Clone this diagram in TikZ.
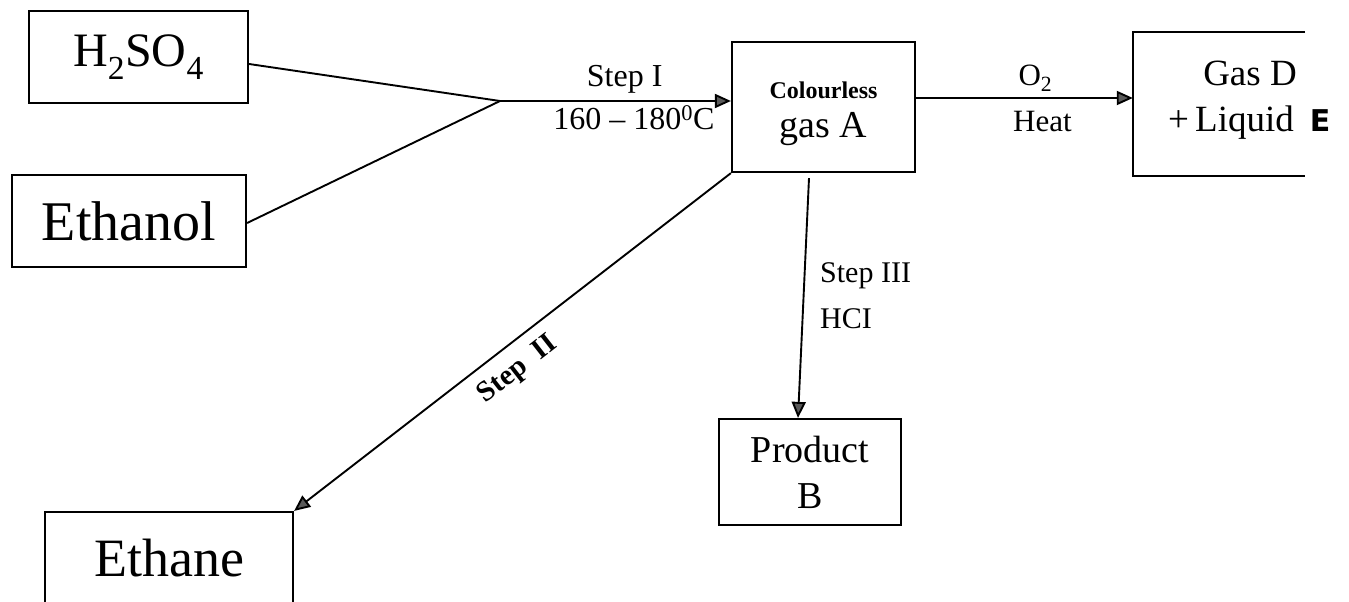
\documentclass[tikz,border=0pt]{standalone}
\usepackage{fontspec}
\setmainfont{Liberation Serif}
\newfontfamily\esans{DejaVu Sans}
\usetikzlibrary{arrows.meta}
\begin{document}
\begin{tikzpicture}[x=1pt,y=-1pt,
  box/.style={draw, line width=2.2pt, inner sep=0pt, align=center},
  openbox/.style={inner sep=0pt, align=center},
  conn/.style={line width=1.9pt},
  arr/.style={conn, -{Triangle[length=16pt,width=14pt,fill=black!65]}},
  lbl/.style={inner sep=0pt}]
\useasboundingbox (0,0) rectangle (1349,602);

% boxes
\node[box, minimum width=219pt, minimum height=92pt, font=\fontsize{48}{52}\selectfont] (h2so4) at (138.5,57) {H\textsubscript{2}SO\textsubscript{4}};
\node[box, minimum width=234pt, minimum height=92pt, font=\fontsize{56}{60}\selectfont] (ethanol) at (129,221) {Ethanol};
\node[box, minimum width=183pt, minimum height=130pt, font=\fontsize{38}{39}\selectfont] (gasA) at (823.5,107) {\rule{0pt}{6pt}\\[-14pt]{\fontsize{24}{26}\selectfont\bfseries Colourless}\\gas A};
\node[openbox, minimum width=172pt, minimum height=144pt] (gasD) at (1219,104) {};
\draw[line width=2.2pt] (gasD.north east) -- (gasD.north west) -- (gasD.south west) -- (gasD.south east);
\node[lbl, font=\fontsize{37}{40}\selectfont, anchor=base] (gasDa) at (1250,85) {Gas D};
\node[lbl, font=\fontsize{37}{40}\selectfont, anchor=base west] (gasDb) at (1168,131) {+\,Liquid\hspace{16pt}{\esans\bfseries\fontsize{30}{30}\selectfont E}};
\node[box, minimum width=182pt, minimum height=106pt, font=\fontsize{38}{46}\selectfont] (prodB) at (810,472) {Product\\B};
\node[box, minimum width=248pt, minimum height=92pt, font=\fontsize{54}{58}\selectfont] (ethane) at (169,558) {Ethane};

% connectors
\coordinate (J) at (500,101);
\draw[conn] ([yshift=-7pt]h2so4.east) -- (J);
\draw[conn] ([yshift=-2pt]ethanol.east) -- (J);
\draw[arr] (J) -- (J -| gasA.west)
  node[lbl, pos=0.54, above=7pt, font=\fontsize{32}{34}\selectfont] (s1) {Step I}
  node[lbl, pos=0.58, below=4pt, font=\fontsize{32}{34}\selectfont] (t1) {160 -- 180\textsuperscript{0}C};
\draw[arr] ([yshift=9pt]gasA.east) -- ([yshift=6pt]gasD.west)
  node[lbl, pos=0.5, above=6pt, xshift=11pt, font=\fontsize{31}{33}\selectfont] (o2) {O\textsubscript{2}}
  node[lbl, pos=0.5, below=12pt, xshift=18pt, font=\fontsize{31}{33}\selectfont] (heat) {Heat};
\draw[arr] (gasA.south west) -- (ethane.north east);
\node[lbl, rotate=38, font=\fontsize{29}{30}\selectfont\bfseries] (s2) at (518,370) {Step\ \ II};
\draw[arr] ([xshift=-14.5pt,yshift=-5pt]gasA.south) -- ([xshift=-12pt]prodB.north);
\node[lbl, anchor=base west, font=\fontsize{30}{32}\selectfont] (s3) at (820,282) {Step III};
\node[lbl, anchor=base west, font=\fontsize{30}{32}\selectfont] (hcl) at (820,328) {HCI};
\end{tikzpicture}
\end{document}
